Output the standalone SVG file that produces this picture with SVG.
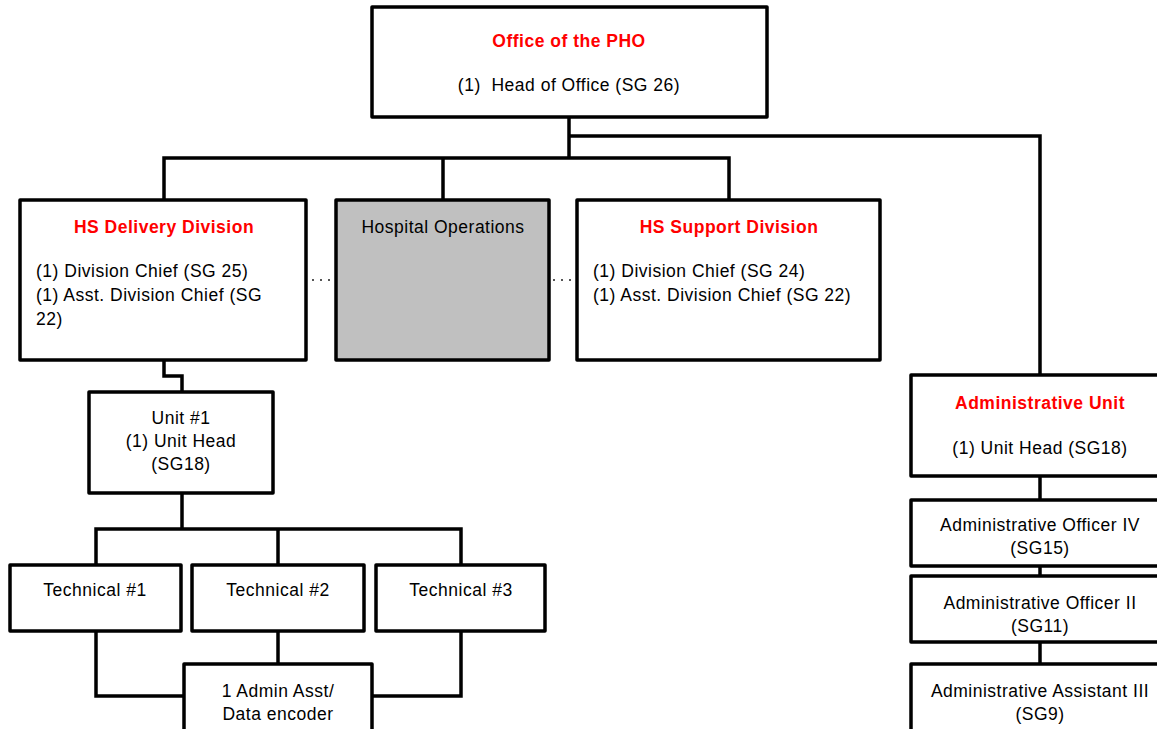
<svg xmlns="http://www.w3.org/2000/svg" width="1157" height="729" viewBox="0 0 1157 729">
  <style>
    .box { fill: #ffffff; stroke: #000000; stroke-width: 3.5; stroke-linejoin: round; }
    .grey { fill: #c0c0c0; }
    .wire { fill: none; stroke: #000000; stroke-width: 3.5; stroke-linejoin: miter; }
    .dots { fill: none; stroke: #444444; stroke-width: 1.8; stroke-dasharray: 1.8 6.2; }
    text { font-family: "Liberation Sans", Arial, sans-serif; font-size: 17.5px; letter-spacing: 0.5px; fill: #000000; }
    .title { fill: #ff0000; font-weight: bold; }
    .c { text-anchor: middle; }
  </style>

  <!-- connectors -->
  <g id="connectors">
    <path class="wire" d="M569 117 V158"/>
    <path class="wire" d="M569 136 H1040 V375"/>
    <path class="wire" d="M164 200 V158 H729 V200"/>
    <path class="wire" d="M443 158 V200"/>
    <path class="dots" d="M312.1 280 H332"/>
    <path class="dots" d="M553.1 280 H573"/>
    <path class="wire" d="M164 360 V376 H182 V392"/>
    <path class="wire" d="M182 493 V529"/>
    <path class="wire" d="M96 565 V529 H461 V565"/>
    <path class="wire" d="M278 529 V565"/>
    <path class="wire" d="M96 631 V696 H184"/>
    <path class="wire" d="M461 631 V696 H372"/>
    <path class="wire" d="M278 631 V664"/>
    <path class="wire" d="M1040 476 V500"/>
    <path class="wire" d="M1040 566 V576"/>
    <path class="wire" d="M1040 642 V664"/>
  </g>

  <g id="office-pho">
    <rect class="box" x="372" y="7" width="395" height="110"/>
    <text class="title c" x="569" y="47">Office of the PHO</text>
    <text class="c" x="569" y="91" xml:space="preserve">(1)  Head of Office (SG 26)</text>
  </g>

  <g id="hs-delivery">
    <rect class="box" x="20" y="200" width="286" height="160"/>
    <text class="title c" x="164" y="233">HS Delivery Division</text>
    <text x="36" y="277">(1) Division Chief (SG 25)</text>
    <text x="36" y="301">(1) Asst. Division Chief (SG</text>
    <text x="36" y="325">22)</text>
  </g>

  <g id="hospital-operations">
    <rect class="box grey" x="336" y="200" width="213" height="160"/>
    <text class="c" x="443" y="233">Hospital Operations</text>
  </g>

  <g id="hs-support">
    <rect class="box" x="577" y="200" width="303" height="160"/>
    <text class="title c" x="729" y="233">HS Support Division</text>
    <text x="593" y="277">(1) Division Chief (SG 24)</text>
    <text x="593" y="301">(1) Asst. Division Chief (SG 22)</text>
  </g>

  <g id="unit-1">
    <rect class="box" x="89" y="392" width="184" height="101"/>
    <text class="c" x="181" y="424">Unit #1</text>
    <text class="c" x="181" y="447">(1) Unit Head</text>
    <text class="c" x="181" y="470">(SG18)</text>
  </g>

  <g id="technical-1">
    <rect class="box" x="10" y="565" width="171" height="66"/>
    <text class="c" x="95" y="596">Technical #1</text>
  </g>
  <g id="technical-2">
    <rect class="box" x="192" y="565" width="172" height="66"/>
    <text class="c" x="278" y="596">Technical #2</text>
  </g>
  <g id="technical-3">
    <rect class="box" x="376" y="565" width="169" height="66"/>
    <text class="c" x="461" y="596">Technical #3</text>
  </g>

  <g id="admin-asst">
    <rect class="box" x="184" y="664" width="188" height="80"/>
    <text class="c" x="278" y="697">1 Admin Asst/</text>
    <text class="c" x="278" y="720">Data encoder</text>
  </g>

  <g id="administrative-unit">
    <rect class="box" x="911" y="375" width="260" height="101"/>
    <text class="title c" x="1040" y="409">Administrative Unit</text>
    <text class="c" x="1040" y="454">(1) Unit Head (SG18)</text>
  </g>

  <g id="admin-officer-iv">
    <rect class="box" x="911" y="500" width="260" height="66"/>
    <text class="c" x="1040" y="531">Administrative Officer IV</text>
    <text class="c" x="1040" y="554">(SG15)</text>
  </g>

  <g id="admin-officer-ii">
    <rect class="box" x="911" y="576" width="260" height="66"/>
    <text class="c" x="1040" y="609">Administrative Officer II</text>
    <text class="c" x="1040" y="632">(SG11)</text>
  </g>

  <g id="admin-assistant-iii">
    <rect class="box" x="911" y="664" width="260" height="80"/>
    <text class="c" x="1040" y="697">Administrative Assistant III</text>
    <text class="c" x="1040" y="720">(SG9)</text>
  </g>
</svg>
